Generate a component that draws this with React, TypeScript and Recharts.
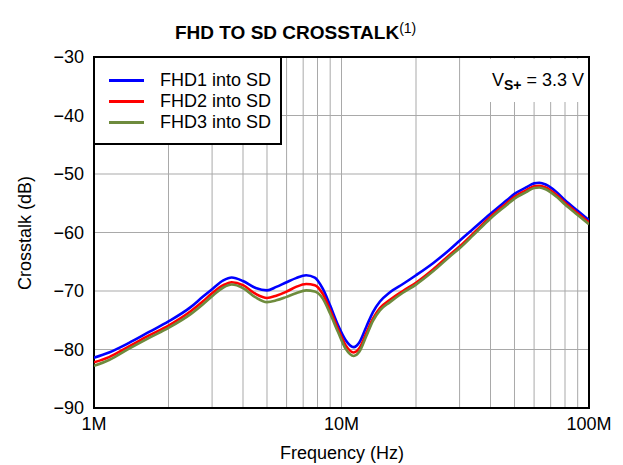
import React from 'react';
import { LineChart, Line, XAxis, YAxis, CartesianGrid, Legend, ReferenceArea } from 'recharts';

// Frequency in MHz
const freqMHz = [1, 1.15, 1.38, 1.67, 2, 2.45, 2.75, 3, 3.33, 3.6, 4, 4.5, 5, 5.45, 6, 6.55, 7.2, 7.8, 8.4, 9, 9.7, 10.4, 11.2, 11.8, 12.6, 13.4, 14.3, 15.7, 17.7, 20, 23.5, 27.4, 30, 34, 40, 46.5, 50, 55.7, 60, 63, 66.8, 74, 80, 90, 100];

const fhd1 = [-81.4, -80.5, -78.9, -77.0, -75.2, -72.8, -71.0, -69.7, -68.2, -67.7, -68.3, -69.5, -69.9, -69.3, -68.5, -67.8, -67.3, -67.7, -69.6, -72.5, -75.9, -78.4, -79.6, -78.8, -76.1, -73.6, -71.8, -70.2, -68.8, -67.3, -65.2, -62.9, -61.4, -59.4, -56.8, -54.5, -53.4, -52.3, -51.6, -51.5, -51.8, -53.1, -54.5, -56.3, -57.9];

const fhd2 = [-82.2, -81.3, -79.5, -77.6, -75.9, -73.5, -71.8, -70.4, -69.0, -68.5, -69.0, -70.5, -71.2, -70.8, -70.1, -69.3, -68.8, -69.0, -70.5, -73.3, -76.6, -79.3, -80.5, -79.8, -77.2, -74.7, -72.9, -71.5, -70.0, -68.6, -66.3, -63.8, -62.4, -60.2, -57.3, -55.0, -53.9, -52.8, -52.1, -52.0, -52.3, -53.6, -54.9, -56.7, -58.3];

const fhd3 = [-82.8, -81.8, -79.9, -78.0, -76.3, -74.0, -72.3, -70.9, -69.4, -68.9, -69.5, -71.1, -71.9, -71.6, -71.0, -70.4, -69.9, -70.1, -71.3, -73.9, -77.1, -79.9, -81.1, -80.4, -77.7, -75.1, -73.3, -71.9, -70.3, -68.9, -66.6, -64.1, -62.7, -60.5, -57.6, -55.3, -54.2, -53.1, -52.4, -52.3, -52.6, -53.9, -55.2, -57.0, -58.6];

const xTicks = [1, 2, 3, 4, 5, 6, 7, 8, 9, 10, 20, 30, 40, 50, 60, 70, 80, 90, 100];
const majorTicks = [1, 10, 100];
const majorLabels = ['1M', '10M', '100M'];
const yTicks = [-90, -80, -70, -60, -50, -40, -30];

const seriesKeys = ['s1', 's2', 's3'];
const seriesNames = ['FHD1 into SD', 'FHD2 into SD', 'FHD3 into SD'];
const seriesColors = ['#0000FF', '#FF0000', '#6E8B3D'];
const seriesValues = [fhd1, fhd2, fhd3];

const data = freqMHz.map((f, i) => {
  const row: Record<string, number> = { f };
  seriesKeys.forEach((k, j) => {
    row[k] = seriesValues[j][i];
  });
  return row;
});

const FONT = '"Liberation Sans", Arial, Helvetica, sans-serif';
const FS = 18;

const xFmt = (v: number) => {
  const idx = majorTicks.indexOf(v);
  return idx >= 0 ? majorLabels[idx] : '';
};
const yFmt = (v: number) => String(v).replace('-', '\u2212');

const LegendBox = () => (
  <div
    style={{
      width: 187,
      height: 87,
      background: '#fff',
      borderRight: '2px solid #000',
      borderBottom: '2px solid #000',
      boxSizing: 'border-box',
      paddingTop: 12,
      fontFamily: FONT,
      fontSize: FS,
      color: '#000',
    }}
  >
    {seriesNames.map((n, i) => (
      <div key={n} style={{ display: 'flex', alignItems: 'center', height: 21 }}>
        <div style={{ width: 35, height: 3, background: seriesColors[i], marginLeft: 14, marginRight: 16 }} />
        <span style={{ lineHeight: '21px' }}>{n}</span>
      </div>
    ))}
  </div>
);

export default function App() {
  return (
    <div style={{ position: 'absolute', left: 0, top: 0, width: 623, height: 465, background: '#fff', fontFamily: FONT }}>
      <div
        style={{
          position: 'absolute',
          left: 175,
          top: 19,
          fontSize: 19,
          lineHeight: '19px',
          fontWeight: 'bold',
          whiteSpace: 'nowrap',
          color: '#000',
        }}
      >
        FHD TO SD CROSSTALK
        <span style={{ fontWeight: 'normal', fontSize: 14, verticalAlign: 6 }}>(1)</span>
      </div>
      <LineChart width={623} height={465} data={data} margin={{ top: 57, right: 34, bottom: 27, left: 34 }}>
        <CartesianGrid stroke="#a9a9a9" strokeWidth={1} />
        <XAxis
          dataKey="f"
          type="number"
          scale="log"
          domain={[1, 100]}
          ticks={xTicks}
          interval={0}
          tickFormatter={xFmt}
          tickLine={false}
          axisLine={false}
          tickSize={0}
          tickMargin={9}
          height={30}
          allowDataOverflow
          tick={{ fontSize: FS, fill: '#000', fontFamily: FONT }}
        />
        <YAxis
          type="number"
          domain={[-90, -30]}
          ticks={yTicks}
          interval={0}
          tickFormatter={yFmt}
          tickLine={false}
          axisLine={false}
          tickSize={0}
          tickMargin={10}
          width={60}
          allowDataOverflow
          tick={{ fontSize: FS, fill: '#000', fontFamily: FONT }}
        />
        {seriesKeys.map((k, i) => (
          <Line
            key={k}
            dataKey={k}
            name={seriesNames[i]}
            stroke={seriesColors[i]}
            strokeWidth={2.6}
            type="monotone"
            dot={false}
            activeDot={false}
            isAnimationActive={false}
          />
        ))}
        <ReferenceArea x1={1} x2={100} y1={-90} y2={-30} fill="none" stroke="#000" strokeWidth={2} ifOverflow="visible" />
        <Legend
          layout="vertical"
          verticalAlign="middle"
          align="center"
          content={<LegendBox />}
          wrapperStyle={{ left: 95, top: 58, width: 187, height: 87 }}
        />
      </LineChart>
      <div
        style={{
          position: 'absolute',
          left: 466,
          top: 59,
          width: 121,
          height: 43,
          background: '#fff',
          fontSize: FS,
          color: '#000',
          textAlign: 'right',
          boxSizing: 'border-box',
          paddingRight: 3,
          paddingTop: 12,
          lineHeight: '18px',
          whiteSpace: 'nowrap',
        }}
      >
        V<sub style={{ fontSize: 14, fontWeight: 'bold', verticalAlign: -4 }}>S+</sub> = 3.3 V
      </div>
      <div
        style={{
          position: 'absolute',
          left: 242,
          width: 200,
          top: 444,
          fontSize: FS,
          lineHeight: '18px',
          textAlign: 'center',
          color: '#000',
        }}
      >
        Frequency (Hz)
      </div>
      <div
        style={{
          position: 'absolute',
          left: 25 - 100,
          top: 233 - 9,
          width: 200,
          height: 18,
          fontSize: FS,
          lineHeight: '18px',
          textAlign: 'center',
          transform: 'rotate(-90deg)',
          color: '#000',
        }}
      >
        Crosstalk (dB)
      </div>
    </div>
  );
}
